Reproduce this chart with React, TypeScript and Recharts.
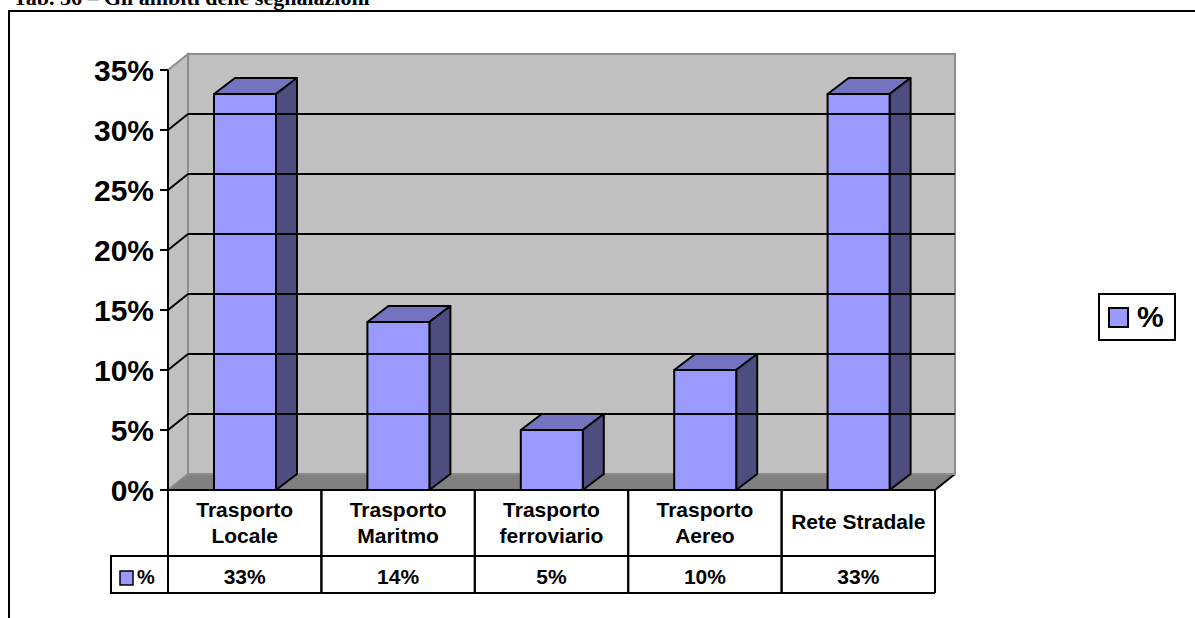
import React from 'react';
import { BarChart, Bar, XAxis, YAxis, ReferenceArea, ReferenceLine, Legend } from 'recharts';

// categories, values and axis ticks
const categories = [
  'Trasporto\nLocale',
  'Trasporto\nMaritmo',
  'Trasporto\nferroviario',
  'Trasporto\nAereo',
  'Rete Stradale',
];
const percentages = [33, 14, 5, 10, 33];
const yTicks = [0, 5, 10, 15, 20, 25, 30, 35];
const gridTicks = [5, 10, 15, 20, 25, 30];
const seriesName = '%';
const title = 'Tab. 36 – Gli ambiti delle segnalazioni';

const data = categories.map((name, i) => ({ name, value: percentages[i] }));

const W = 1195;
const H = 618;
const Y_AXIS_W = 168;
const X_AXIS_H = 128;
const RIGHT = 260;
const COL_W = (W - Y_AXIS_W - RIGHT) / categories.length;

// depth of the walls and of the columns
const DX = 20;
const DY = 16;
const BDX = 21;
const BDY = 16;

const FONT = '"Liberation Sans", Arial, Helvetica, sans-serif';

const Walls = (p: any) => {
  const { x, y, width, height } = p;
  const b = y + height;
  const r = x + width;
  return (
    <g>
      <polygon points={`${x},${b} ${x + DX},${b - DY} ${r + DX},${b - DY} ${r},${b}`} fill="#808080" />
      <line x1={r} y1={b} x2={r + DX} y2={b - DY} stroke="#000" strokeWidth={2} />
      <polygon
        points={`${x},${y} ${x + DX},${y - DY} ${x + DX},${b - DY} ${x},${b}`}
        fill="#c0c0c0"
        stroke="#8c8c8c"
        strokeWidth={2}
      />
      <rect x={x + DX} y={y - DY} width={width} height={height} fill="#c0c0c0" stroke="#8c8c8c" strokeWidth={2} />
    </g>
  );
};

const WallGridLine = (p: any) => {
  const { x1, y1, x2 } = p;
  return (
    <g>
      <line x1={x1} y1={y1} x2={x1 + DX} y2={y1 - DY} stroke="#000" strokeWidth={2} />
      <line x1={x1 + DX} y1={y1 - DY} x2={x2 + DX} y2={y1 - DY} stroke="#000" strokeWidth={2} />
    </g>
  );
};

const Box3D = (p: any) => {
  const { x, y, width: w, height: h } = p;
  return (
    <g stroke="#000" strokeWidth={2} strokeLinejoin="round">
      <polygon points={`${x},${y} ${x + BDX},${y - BDY} ${x + w + BDX},${y - BDY} ${x + w},${y}`} fill="#7373bf" />
      <polygon
        points={`${x + w},${y} ${x + w + BDX},${y - BDY} ${x + w + BDX},${y + h - BDY} ${x + w},${y + h}`}
        fill="#4d4d80"
      />
      <rect x={x} y={y} width={w} height={h} fill="#9999ff" />
    </g>
  );
};

// data table under the plot, one column per category tick
const TableColumn = (p: any) => {
  const { x, y, payload, index } = p;
  const i = payload?.index ?? index;
  const left = x - COL_W / 2;
  const right = x + COL_W / 2;
  const lines = String(payload.value).split('\n');
  const txt = { fontFamily: FONT, fontSize: 21, fontWeight: 700, fill: '#000', textAnchor: 'middle' as const };
  return (
    <g>
      <line x1={left} y1={y} x2={left} y2={y + 103} stroke="#000" strokeWidth={2} />
      <line x1={right} y1={y} x2={right} y2={y + 103} stroke="#000" strokeWidth={2} />
      <line x1={left} y1={y + 66} x2={right} y2={y + 66} stroke="#000" strokeWidth={2} />
      <line x1={left} y1={y + 103} x2={right} y2={y + 103} stroke="#000" strokeWidth={2} />
      {lines.length > 1 ? (
        lines.map((l, k) => (
          <text key={k} x={x} y={y + 27 + k * 26} {...txt}>
            {l}
          </text>
        ))
      ) : (
        <text x={x} y={y + 39} {...txt}>
          {lines[0]}
        </text>
      )}
      <text x={x} y={y + 94} {...txt}>
        {`${percentages[i]}%`}
      </text>
      {i === 0 && (
        <g>
          <rect x={left - 57} y={y + 66} width={57} height={37} fill="#fff" stroke="#000" strokeWidth={2} />
          <rect x={left - 48} y={y + 81} width={13} height={14} fill="#9999ff" stroke="#000" strokeWidth={1.5} />
          <text x={left - 31} y={y + 94} fontFamily={FONT} fontSize={20} fontWeight={700} fill="#000">
            {seriesName}
          </text>
        </g>
      )}
    </g>
  );
};

const LegendBox = (p: any) => {
  const item = p.payload?.[0];
  return (
    <div
      style={{
        boxSizing: 'border-box',
        width: 78,
        height: 48,
        border: '2px solid #000',
        background: '#fff',
        display: 'flex',
        alignItems: 'center',
        paddingLeft: 8,
        fontFamily: FONT,
        fontSize: 30,
        fontWeight: 700,
      }}
    >
      <span
        style={{
          display: 'inline-block',
          boxSizing: 'border-box',
          width: 21,
          height: 21,
          background: item?.color ?? '#9999ff',
          border: '2px solid #000',
          marginRight: 8,
        }}
      />
      <span>{item?.value ?? seriesName}</span>
    </div>
  );
};

export default function App() {
  return (
    <div style={{ position: 'absolute', left: 0, top: 0, width: W, height: H, overflow: 'hidden', background: '#fff' }}>
      <div
        style={{
          position: 'absolute',
          left: 13,
          top: -13,
          fontFamily: '"Liberation Serif", "Times New Roman", serif',
          fontSize: 22,
          lineHeight: '22px',
          fontWeight: 700,
          whiteSpace: 'nowrap',
        }}
      >
        {title}
      </div>
      <div
        style={{
          position: 'absolute',
          left: 8,
          top: 10,
          width: W,
          height: H,
          borderTop: '2px solid #000',
          borderLeft: '2px solid #000',
        }}
      />
      <div style={{ position: 'absolute', left: 0, top: 0 }}>
        <BarChart width={W} height={H} data={data} margin={{ top: 70, right: RIGHT, bottom: 0, left: 0 }}>
          <ReferenceArea y1={0} y2={35} ifOverflow="visible" shape={Walls} />
          {gridTicks.map((t) => (
            <ReferenceLine key={t} y={t} ifOverflow="visible" shape={WallGridLine} />
          ))}
          <XAxis
            dataKey="name"
            height={X_AXIS_H}
            interval={0}
            tickLine={false}
            tickSize={0}
            tickMargin={0}
            axisLine={{ stroke: '#000', strokeWidth: 2 }}
            tick={(props: any) => <TableColumn {...props} />}
          />
          <YAxis
            width={Y_AXIS_W}
            domain={[0, 35]}
            ticks={yTicks}
            interval={0}
            tickFormatter={(v: number) => `${v}%`}
            tickSize={8}
            tickMargin={6}
            tickLine={{ stroke: '#000', strokeWidth: 2 }}
            axisLine={{ stroke: '#000', strokeWidth: 2 }}
            tick={{ fontFamily: FONT, fontSize: 30, fontWeight: 700, fill: '#000' }}
          />
          <Legend
            layout="horizontal"
            align="center"
            verticalAlign="middle"
            wrapperStyle={{ left: 1098, top: 293, width: 78, height: 48 }}
            content={(props: any) => <LegendBox {...props} />}
          />
          <Bar dataKey="value" name={seriesName} fill="#9999ff" barSize={62} shape={Box3D} isAnimationActive={false} />
        </BarChart>
      </div>
    </div>
  );
}
